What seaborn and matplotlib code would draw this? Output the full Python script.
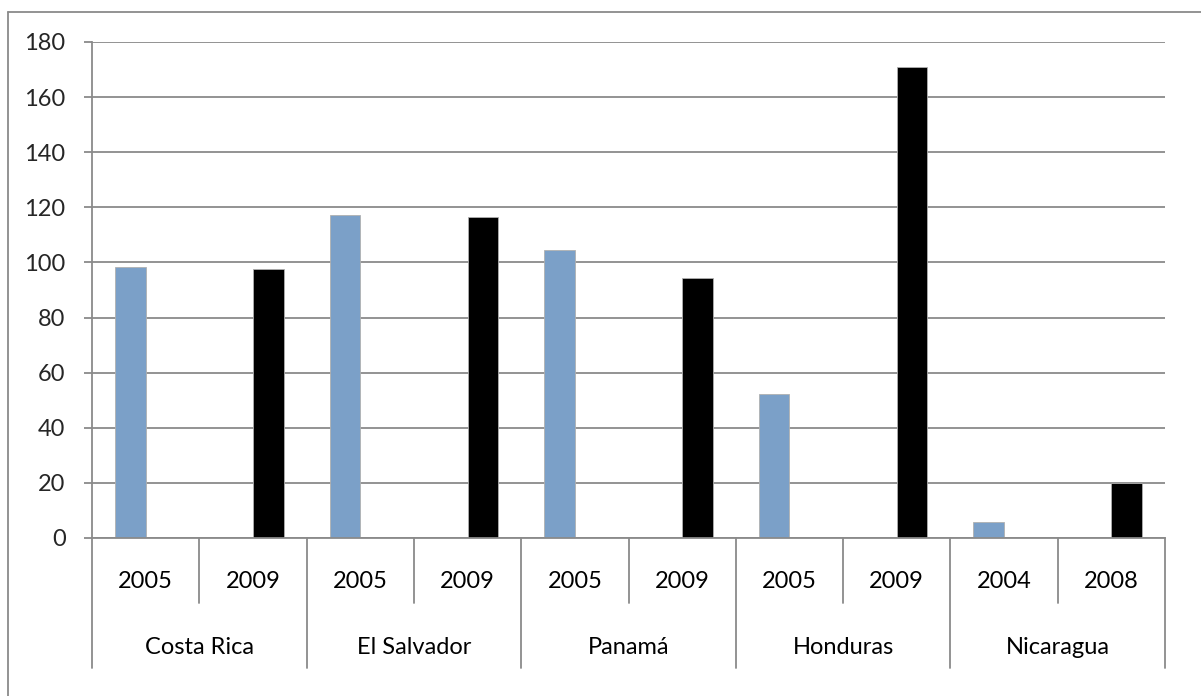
import matplotlib
matplotlib.use("Agg")
import matplotlib.pyplot as plt
import matplotlib.transforms as mtransforms
from matplotlib.lines import Line2D
import seaborn as sns
import pandas as pd

countries = ["Costa Rica", "El Salvador", "Panamá", "Honduras", "Nicaragua"]
first_years = ["2005", "2005", "2005", "2005", "2004"]
second_years = ["2009", "2009", "2009", "2009", "2008"]
first_values = [98.3, 117.2, 104.4, 52.4, 5.7]
second_values = [97.6, 116.6, 94.3, 170.8, 19.8]

# long table: one slot per (country, year); each slot belongs to one of two periods
rows = []
for i, c in enumerate(countries):
    rows.append({"slot": f"{c}|{first_years[i]}", "periodo": "inicial",
                 "valor": first_values[i], "anio": first_years[i], "pais": c})
    rows.append({"slot": f"{c}|{second_years[i]}", "periodo": "final",
                 "valor": second_values[i], "anio": second_years[i], "pais": c})
df = pd.DataFrame(rows)
slot_order = list(df["slot"])

sns.set_style("white")
plt.rcParams["font.family"] = ["Lato", "DejaVu Sans"]
FS = 17

W, H = 1201, 696
fig = plt.figure(figsize=(W / 100, H / 100), dpi=100)
left, right, top, bottom = 92, 1165, 42, 538
ax = fig.add_axes([left / W, 1 - bottom / H, (right - left) / W, (bottom - top) / H])

sns.barplot(data=df, x="slot", y="valor", hue="periodo", order=slot_order,
            hue_order=["inicial", "final"], palette=["#7BA0C8", "#000000"],
            saturation=1, dodge=True, width=0.572, edgecolor="#b0b0b0",
            linewidth=0.6, legend=False, ax=ax)

ax.set_ylim(0, 180)
ax.set_xlim(-0.5, len(slot_order) - 0.5)
ax.set_yticks(range(0, 181, 20))
ax.yaxis.grid(True, color="#8a8a8a", linewidth=1.3)
ax.set_axisbelow(True)
ax.set_xlabel("")
ax.set_ylabel("")
ax.set_xticks([])
for s in ["top", "right"]:
    ax.spines[s].set_visible(False)
for s in ["left", "bottom"]:
    ax.spines[s].set_color("#8a8a8a")
    ax.spines[s].set_linewidth(1.3)
ax.tick_params(axis="y", direction="out", length=6, width=1.3, color="#8a8a8a",
               pad=13, labelsize=FS, left=True)

# two-level category axis drawn below the plot
ph = bottom - top
trans = mtransforms.blended_transform_factory(ax.transData, ax.transAxes)
year_y = -(582 - bottom) / ph
country_y = -(647 - bottom) / ph
short_y = -(603 - bottom) / ph
long_y = -(668 - bottom) / ph
for i, r in df.iterrows():
    ax.text(i, year_y, r["anio"], transform=trans, ha="center", va="center",
            fontsize=FS, color="black")
for k, c in enumerate(countries):
    ax.text(2 * k + 0.5, country_y, c, transform=trans, ha="center", va="center",
            fontsize=FS, color="black")
for b in range(len(slot_order) + 1):
    y_end = long_y if b % 2 == 0 else short_y
    ax.plot([b - 0.5, b - 0.5], [0, y_end], transform=trans, color="#8a8a8a",
            linewidth=1.3, clip_on=False)

# chart area border
fig.add_artist(Line2D([8 / W, 8 / W], [0, 1 - 12 / H], color="#8a8a8a", linewidth=1.3))
fig.add_artist(Line2D([8 / W, 1], [1 - 12 / H, 1 - 12 / H], color="#8a8a8a", linewidth=1.3))

fig.savefig("out.png", dpi=100)
